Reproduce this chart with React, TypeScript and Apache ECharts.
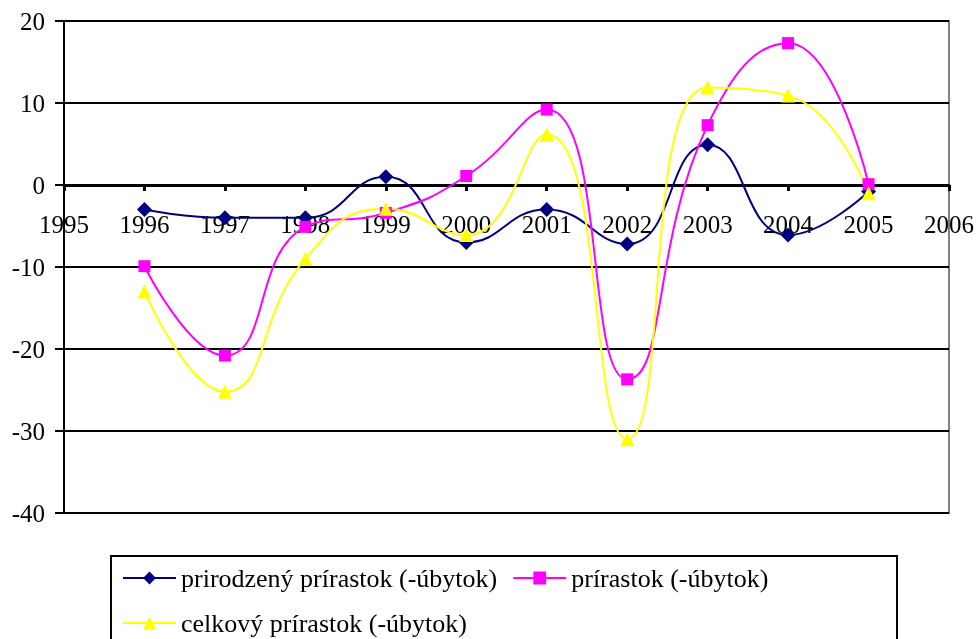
import React, { useEffect, useRef } from "react";
import * as echarts from "echarts";

const years = [1996, 1997, 1998, 1999, 2000, 2001, 2002, 2003, 2004, 2005];
const prirodzeny = [-3, -4, -4, 1, -7, -3, -7.2, 4.9, -6.1, -0.8];
const prirastok = [-9.9, -20.8, -5.1, -3.4, 1.1, 9.2, -23.7, 7.3, 17.3, 0.1];
const celkovy = [-13, -25.2, -9, -2.9, -6.1, 6.2, -31, 11.9, 10.9, -1];
const seriesNames = [
  "prirodzený prírastok (-úbytok)",
  "prírastok (-úbytok)",
  "celkový prírastok (-úbytok)",
];

const FONT = "Times New Roman";

export default function App() {
  const ref = useRef<HTMLDivElement>(null);
  useEffect(() => {
    if (!ref.current) return;
    const chart = echarts.init(ref.current, null, { renderer: "svg" });
    const mk = (vals: number[]) => years.map((y, i) => [y, vals[i]]);
    chart.setOption({
      animation: false,
      textStyle: { fontFamily: FONT },
      grid: {
        left: 64,
        top: 21,
        right: 27,
        bottom: 126,
        show: true,
        borderColor: "#808080",
        borderWidth: 2,
      },
      xAxis: {
        type: "value",
        min: 1995,
        max: 2006,
        interval: 1,
        position: "bottom",
        offset: -328,
        axisLine: { onZero: false, lineStyle: { color: "#000", width: 3 } },
        axisTick: { show: true, length: 6, lineStyle: { color: "#000", width: 3 } },
        axisLabel: {
          margin: 27,
          fontFamily: FONT,
          fontSize: 25,
          color: "#000",
          formatter: (v: number) => String(v),
        },
        splitLine: { show: false },
      },
      yAxis: {
        type: "value",
        min: -40,
        max: 20,
        interval: 10,
        axisLine: { show: true, lineStyle: { color: "#000", width: 2 } },
        axisTick: { show: true, length: 9, lineStyle: { color: "#000", width: 2 } },
        axisLabel: { margin: 19, fontFamily: FONT, fontSize: 25, color: "#000" },
        splitLine: { show: true, lineStyle: { color: "#000", width: 2 } },
      },
      legend: {
        left: 122,
        top: 563,
        width: 700,
        orient: "horizontal",
        itemWidth: 53,
        itemHeight: 16,
        itemGap: 15,
        padding: 0,
        textStyle: {
          fontFamily: FONT,
          fontSize: 26,
          color: "#000",
          lineHeight: 30,
        },
        data: seriesNames,
      },
      graphic: [
        {
          type: "rect",
          shape: { x: 111, y: 556, width: 786, height: 100 },
          style: { fill: "none", stroke: "#000", lineWidth: 2 },
          silent: true,
        },
      ],
      series: [
        {
          type: "line",
          smooth: 0.5,
          z: 5,
          name: seriesNames[0],
          data: mk(prirodzeny),
          symbol: "diamond",
          symbolSize: 15,
          itemStyle: { color: "#000080" },
          lineStyle: { color: "#000080", width: 2 },
        },
        {
          type: "line",
          smooth: 0.5,
          z: 5,
          name: seriesNames[1],
          data: mk(prirastok),
          symbol: "rect",
          symbolSize: 12,
          itemStyle: { color: "#FF00FF" },
          lineStyle: { color: "#FF00FF", width: 2 },
        },
        {
          type: "line",
          smooth: 0.5,
          z: 5,
          name: seriesNames[2],
          data: mk(celkovy),
          symbol: "triangle",
          symbolSize: 14,
          itemStyle: { color: "#FFFF00" },
          lineStyle: { color: "#FFFF00", width: 2 },
        },
      ],
    });
    return () => chart.dispose();
  }, []);
  return (
    <div
      ref={ref}
      style={{ position: "fixed", left: 0, top: 0, width: 977, height: 639 }}
    />
  );
}
